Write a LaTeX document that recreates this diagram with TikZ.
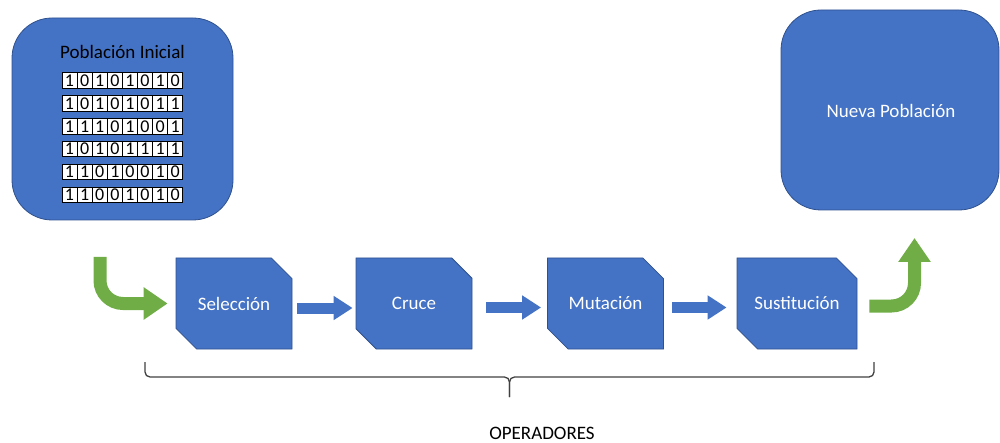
\documentclass[tikz,border=0pt]{standalone}
\usepackage{fontspec}
\setmainfont{Carlito}
\usetikzlibrary{shapes.misc,arrows.meta,calc}
\definecolor{obox}{HTML}{4472C4}
\definecolor{oline}{HTML}{2F528F}
\definecolor{ogreen}{HTML}{70AD47}
\definecolor{bracecol}{HTML}{404040}
\begin{document}
\begin{tikzpicture}[x=1pt,y=-1pt,
  txt/.style={font=\fontsize{19}{22}\selectfont},
  popbox/.style={draw=oline, line width=0.8pt, fill=obox, rounded corners=40pt, inner sep=0pt},
  opbox/.style={chamfered rectangle, chamfered rectangle corners={north east,south west},
    chamfered rectangle xsep=14pt, chamfered rectangle ysep=14pt,
    draw=oline, line width=0.8pt, fill=obox, text=white, inner sep=0pt,
    minimum width=116pt, minimum height=91pt, font=\fontsize{19}{22}\selectfont},
  cell/.style={draw=black, fill=white, line width=1pt, minimum width=15.1pt, minimum height=15.5pt,
    inner sep=0pt, font=\fontsize{18}{18}\selectfont},
  bluearrow/.style={obox, line width=11pt, -{Triangle[width=23pt,length=19pt]}},
  greenarrow/.style={ogreen, line width=13pt, rounded corners=23pt, -{Triangle[width=31pt,length=24pt]}},
  bracestyle/.style={draw=bracecol, line width=1.3pt, rounded corners=5pt}
]
\useasboundingbox (0,0) rectangle (1000,443);
% population boxes
\node[popbox, minimum width=221pt, minimum height=202pt] (pop) at (122.5,119) {};
\node[popbox, minimum width=218pt, minimum height=200pt] (newpop) at (890,110) {};
\node[txt] (poptitle) at (122.5,52) {Población Inicial};
\node[txt, text=white] (newtitle) at (891,111) {Nueva Población};
% bit strings
\foreach \row [count=\r from 0] in {{1,0,1,0,1,0,1,0},{1,0,1,0,1,0,1,1},{1,1,1,0,1,0,0,1},{1,0,1,0,1,1,1,1},{1,1,0,1,0,0,1,0},{1,1,0,0,1,0,1,0}} {
  \foreach \b [count=\c from 0] in \row {
    \node[cell] (b-\r-\c) at ({69.55+15.1*\c},{80.5+22.9*\r}) {\b};
  }
}
% operators
\node[opbox] (sel) at (234,303.5) {Selección};
\node[opbox] (cru) at (414,303.5) {Cruce};
\node[opbox] (mut) at (605.5,303.5) {Mutación};
\node[opbox, minimum width=120pt] (sus) at (797,303.5) {Sustitución};
% block arrows
\draw[bluearrow] ([shift={(5,4.5)}]sel.east) -- ([shift={(-3,4.5)}]cru.west);
\draw[bluearrow] ([shift={(14,4)}]cru.east) -- ([shift={(-6,4)}]mut.west);
\draw[bluearrow] ([shift={(8.5,4)}]mut.east) -- ([shift={(-10,4)}]sus.west);
% green arrows
\coordinate (gin) at (100,257);
\coordinate (gout) at (914.5,238);
\draw[greenarrow] (gin) |- ([xshift=-8pt]sel.west);
\draw[greenarrow] ([shift={(12,2.5)}]sus.east) -| (gout);
% brace
\draw[bracestyle] (145,362) -- (145,377) -- (509.5,377) -- (509.5,397);
\draw[bracestyle] (874,362) -- (874,377) -- (509.5,377) -- (509.5,397);
\node[txt] (ops) at (542,433) {OPERADORES};
\end{tikzpicture}
\end{document}
